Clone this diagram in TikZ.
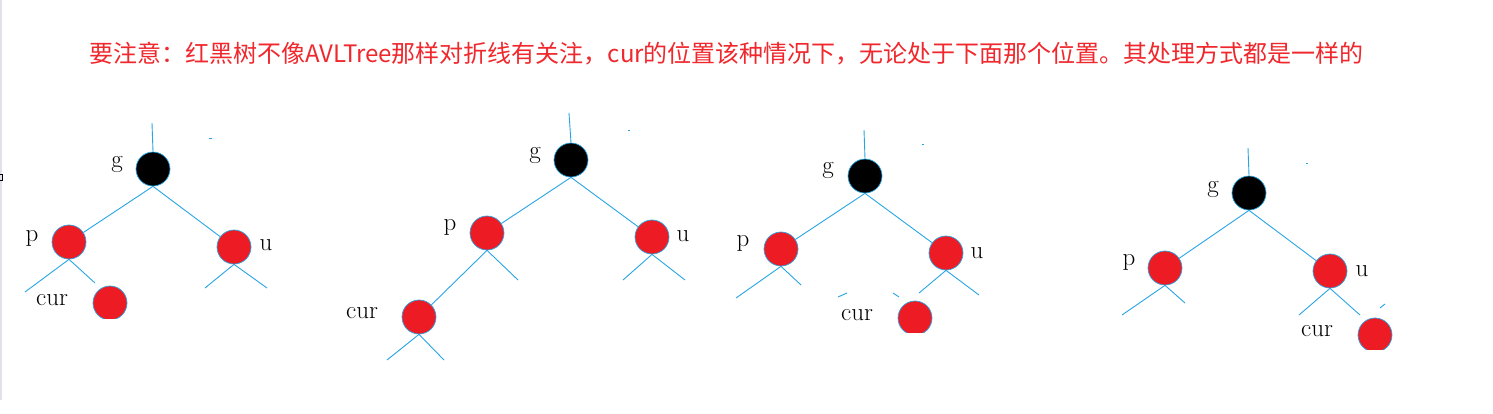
\documentclass[tikz,border=0pt]{standalone}
\usepackage{fontspec}
\newfontfamily\cjk{Noto Sans CJK SC}
\begin{document}
\begin{tikzpicture}[x=1pt,y=-1pt,
  edge/.style={draw=lineblue, line width=0.9pt},
  rednode/.style={circle, minimum size=34pt, inner sep=0pt, fill=nodered, draw=lineblue, line width=0.7pt},
  blacknode/.style={circle, minimum size=34pt, inner sep=0pt, fill=black, draw=lineblue, line width=0.7pt},
  lbl/.style={inner sep=0pt, font=\fontsize{25}{28}\selectfont, text=black},
  title/.style={inner sep=0pt, font=\cjk\fontsize{24}{28}\selectfont, text=titlered, anchor=base west}
]
\definecolor{lineblue}{RGB}{40,165,228}
\definecolor{nodered}{RGB}{237,28,36}
\definecolor{titlered}{RGB}{240,40,45}
\useasboundingbox (0,0) rectangle (1493,413);
\fill[white] (0,0) rectangle (1493,413);
\draw[draw={rgb,255:red,228;green,224;blue,234}, line width=1.6pt] (0.8,0) -- (0.8,400);
\draw[black, line width=0.6pt] (-1,174) rectangle (2.5,180);

\node[title] (t) at (89,62) {要注意：红黑树不像AVLTree那样对折线有关注，cur的位置该种情况下，无论处于下面那个位置。其处理方式都是一样的};

% ---------- tree 1 ----------
\coordinate (r1) at (152,123);
\node[blacknode] (g1) at (153,169) {};
\node[rednode] (p1) at (69,242) {};
\node[rednode] (u1) at (234,247) {};
\begin{scope}
\clip (80,270) rectangle (140,318);
\node[rednode] (c1) at (110,303) {};
\end{scope}
\coordinate (p1l) at (25,292); \coordinate (p1r) at (95,283);
\coordinate (u1l) at (205,288); \coordinate (u1r) at (267,288);
\draw[edge] (r1) -- (g1.north);
\draw[edge] (g1.south) -- (p1); \draw[edge] (g1.south) -- (u1);
\draw[edge] (p1.south) -- (p1l); \draw[edge] (p1.south) -- (p1r);
\draw[edge] (u1.south) -- (u1l); \draw[edge] (u1.south) -- (u1r);
\coordinate (d1a) at (209,138); \coordinate (d1b) at (212,138);
\draw[edge] (d1a) -- (d1b);
\node[lbl] (lg1) at (117,164) {g};
\node[lbl] (lp1) at (32,238) {p};
\node[lbl] (lu1) at (266,245) {u};
\node[lbl] (lc1) at (52,300) {cur};

% ---------- tree 2 ----------
\coordinate (r2) at (569,113);
\node[blacknode] (g2) at (571,160) {};
\node[rednode] (p2) at (487,233) {};
\node[rednode] (u2) at (652,237) {};
\node[rednode] (c2) at (419,317) {};
\coordinate (p2r) at (518,280);
\coordinate (u2l) at (623,280); \coordinate (u2r) at (685,280);
\coordinate (c2l) at (387,360); \coordinate (c2r) at (444,360);
\draw[edge] (r2) -- (g2.north);
\draw[edge] (g2.south) -- (p2); \draw[edge] (g2.south) -- (u2);
\draw[edge] (p2.south) -- (c2); \draw[edge] (p2.south) -- (p2r);
\draw[edge] (u2.south) -- (u2l); \draw[edge] (u2.south) -- (u2r);
\draw[edge] (c2.south) -- (c2l); \draw[edge] (c2.south) -- (c2r);
\coordinate (d2a) at (628,130); \coordinate (d2b) at (630,130);
\draw[edge] (d2a) -- (d2b);
\node[lbl] (lg2) at (535,155) {g};
\node[lbl] (lp2) at (450,227) {p};
\node[lbl] (lu2) at (683,236) {u};
\node[lbl] (lc2) at (362,313) {cur};

% ---------- tree 3 ----------
\coordinate (r3) at (864,130);
\node[blacknode] (g3) at (865,176) {};
\node[rednode] (p3) at (781,249) {};
\node[rednode] (u3) at (946,253) {};
\begin{scope}
\clip (880,290) rectangle (950,332);
\node[rednode] (c3) at (915,318) {};
\end{scope}
\coordinate (p3l) at (736,298); \coordinate (p3r) at (801,285);
\coordinate (u3l) at (919,293); \coordinate (u3r) at (979,295);
\draw[edge] (r3) -- (g3.north);
\draw[edge] (g3.south) -- (p3); \draw[edge] (g3.south) -- (u3);
\draw[edge] (p3.south) -- (p3l); \draw[edge] (p3.south) -- (p3r);
\draw[edge] (u3.south) -- (u3l); \draw[edge] (u3.south) -- (u3r);
\coordinate (m3a) at (838,297); \coordinate (m3b) at (847,293);
\coordinate (m3c) at (893,293); \coordinate (m3d) at (899,297);
\draw[edge] (m3a) -- (m3b); \draw[edge] (m3c) -- (m3d);
\coordinate (d3a) at (922,144); \coordinate (d3b) at (924,144);
\draw[edge] (d3a) -- (d3b);
\node[lbl] (lg3) at (828,170) {g};
\node[lbl] (lp3) at (743,243) {p};
\node[lbl] (lu3) at (977,253) {u};
\node[lbl] (lc3) at (857,315) {cur};

% ---------- tree 4 ----------
\coordinate (r4) at (1248,148);
\node[blacknode] (g4) at (1249,193) {};
\node[rednode] (p4) at (1165,268) {};
\node[rednode] (u4) at (1330,271) {};
\begin{scope}
\clip (1340,300) rectangle (1410,349);
\node[rednode] (c4) at (1375,335) {};
\end{scope}
\coordinate (p4l) at (1122,315); \coordinate (p4r) at (1185,303);
\coordinate (u4l) at (1299,315); \coordinate (u4r) at (1360,315);
\draw[edge] (r4) -- (g4.north);
\draw[edge] (g4.south) -- (p4); \draw[edge] (g4.south) -- (u4);
\draw[edge] (p4.south) -- (p4l); \draw[edge] (p4.south) -- (p4r);
\draw[edge] (u4.south) -- (u4l); \draw[edge] (u4.south) -- (u4r);
\coordinate (m4a) at (1380,308); \coordinate (m4b) at (1385,304);
\draw[edge] (m4a) -- (m4b);
\coordinate (d4a) at (1306,163); \coordinate (d4b) at (1308,163);
\draw[edge] (d4a) -- (d4b);
\node[lbl] (lg4) at (1213,189) {g};
\node[lbl] (lp4) at (1129,262) {p};
\node[lbl] (lu4) at (1362,271) {u};
\node[lbl] (lc4) at (1317,331) {cur};
\end{tikzpicture}
\end{document}
